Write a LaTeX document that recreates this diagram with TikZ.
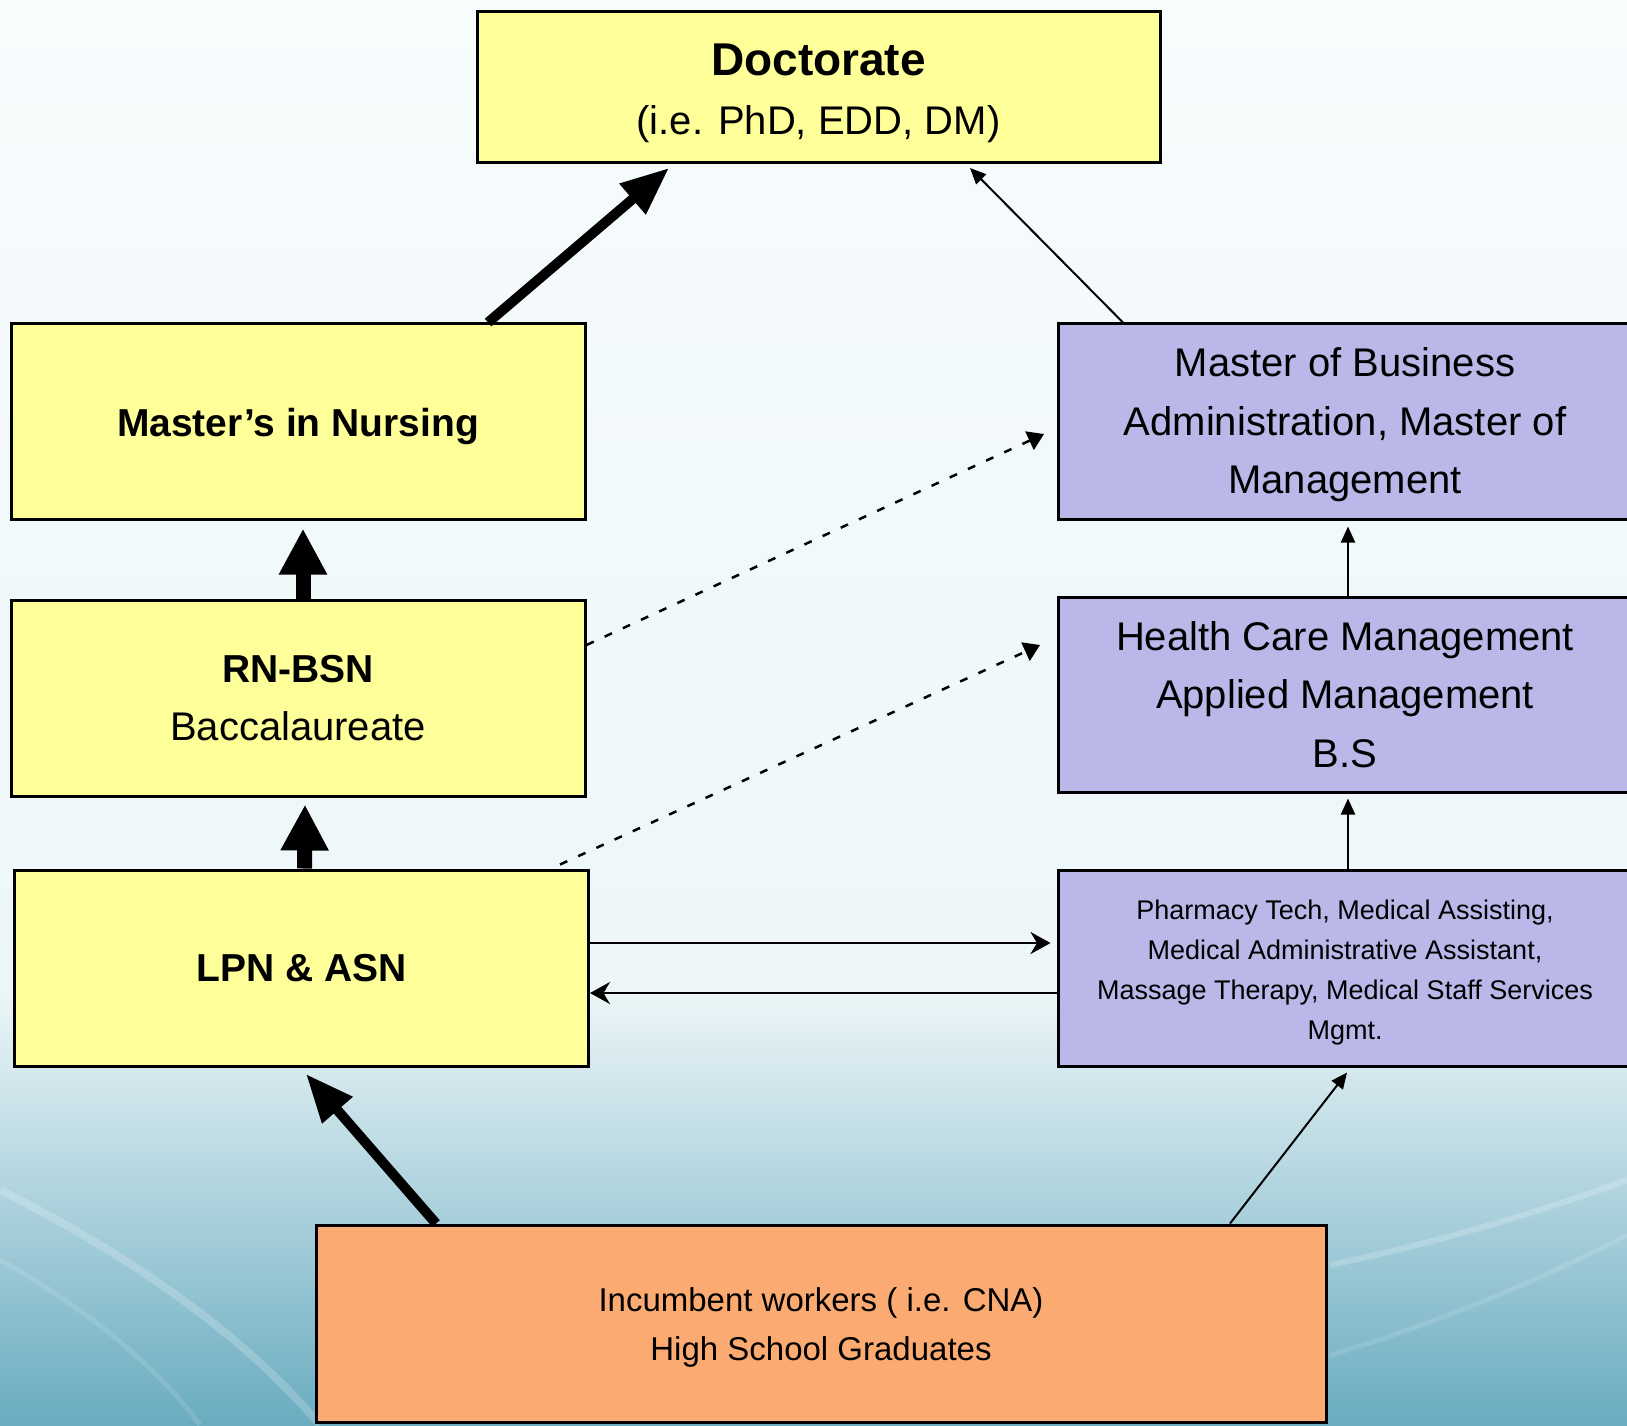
\documentclass[tikz,border=0pt]{standalone}
\usepackage{fontspec}
\setmainfont{Liberation Sans}
\usetikzlibrary{arrows.meta,calc}
\definecolor{ladyellow}{HTML}{FFFF99}
\definecolor{ladlilac}{HTML}{B9B8E8}
\definecolor{ladorange}{HTML}{FBAB71}
\definecolor{ladtop}{HTML}{F7FCFD}
\definecolor{ladmist}{HTML}{EDF6F8}
\definecolor{ladsea}{HTML}{6AACC0}
\newcommand\padtop[1]{\rule{0pt}{#1}}

\begin{document}
\begin{tikzpicture}[
  x=1pt, y=-1pt,
  box/.style={draw=black, line width=3pt, align=center, inner sep=0pt,
              minimum width=574pt, minimum height=196pt},
  ybox/.style={box, fill=ladyellow},
  pbox/.style={box, fill=ladlilac},
  hdr/.style={font=\fontsize{39}{59}\selectfont\bfseries},
  txt/.style={font=\fontsize{40}{58.5}\selectfont},
  heavy/.style={-{Triangle[length=48pt,width=38pt]}, line width=10pt},
  block/.style={-{Triangle[length=46pt,width=45pt]}, line width=15pt},
  fine/.style={-{Triangle[length=16pt,width=14pt]}, line width=2pt},
  flat/.style={-{Stealth[length=20pt,width=22pt]}, line width=2.5pt},
  dashlink/.style={-{Triangle[length=16pt,width=20pt]}, line width=2.5pt,
                   dash pattern=on 8pt off 12pt},
]

% ---------------- background ----------------------------------------
\useasboundingbox (0,0) rectangle (1627,1425);
\clip (0,0) rectangle (1627,1425);
\shade[top color=ladtop, bottom color=ladmist] (0,0) rectangle (1627,990);
\shade[top color=ladmist, bottom color=ladsea] (0,990) rectangle (1627,1425);
\draw[white, opacity=0.2, line width=8pt]
  (0,1190) .. controls (120,1250) and (240,1330) .. (320,1425);
\draw[white, opacity=0.12, line width=5pt]
  (0,1260) .. controls (90,1310) and (160,1370) .. (200,1425);
\draw[white, opacity=0.2, line width=6pt]
  (1330,1265) .. controls (1450,1240) and (1560,1205) .. (1627,1180);
\draw[white, opacity=0.12, line width=5pt]
  (1330,1355) .. controls (1450,1320) and (1560,1270) .. (1627,1235);

% ---------------- boxes ---------------------------------------------
\node[ybox, minimum width=683pt, minimum height=151pt, txt] (doct) at (818.5,86.5)
  {{\fontsize{46}{59}\selectfont\bfseries\padtop{45pt}Doctorate}\\(i.e. PhD, EDD, DM)};
\node[ybox, hdr] (mnurs) at (298,421) {\padtop{38.5pt}Master’s in Nursing};
\node[ybox, txt] (rnbsn) at (298,698)
  {{\fontsize{39}{59}\selectfont\bfseries RN-BSN}\\Baccalaureate};
\node[ybox, hdr] (lpn) at (301.5,968) {LPN \& ASN};

\node[pbox, txt] (mba) at (1345,421)
  {\padtop{37pt}Master of Business\\Administration, Master of\\Management};
\node[pbox, txt, minimum height=195pt] (hcm) at (1345,694.5)
  {Health Care Management\\Applied Management\\B.S};
\node[pbox, font=\fontsize{27}{40}\selectfont] (pharm) at (1345,968)
  {\padtop{29pt}Pharmacy Tech, Medical Assisting,\\Medical Administrative Assistant,\\
   Massage Therapy, Medical Staff Services\\Mgmt.};

\node[box, fill=ladorange, minimum width=1010pt, minimum height=197pt,
      font=\fontsize{33}{49}\selectfont] (incumb) at (821,1323.5)
  {\padtop{31pt}Incumbent workers ( i.e. CNA)\\High School Graduates};

% ---------------- nursing ladder ------------------------------------
\draw[heavy] ($(incumb.north)+(-385,0)$) -- ($(lpn.south)+(4.5,6.5)$);
\draw[block] ($(lpn.north)+(3,0)$) -- ($(rnbsn.south)+(7,7)$);
\draw[block] ($(rnbsn.north)+(5,0)$) -- ($(mnurs.south)+(5,8)$);
\draw[heavy] ($(mnurs.north)+(190,1)$) -- ($(doct.south)+(-149.5,4.5)$);

% ---------------- management ladder ---------------------------------
\draw[fine] ($(incumb.north)+(409,0)$) -- ($(pharm.south)+(2,5)$);
\draw[fine] ($(pharm.north)+(3,0)$) -- ($(hcm.south)+(3,5)$);
\draw[fine] ($(hcm.north)+(3,0)$) -- ($(mba.south)+(3,6)$);
\draw[fine] ($(mba.north)+(-222,1)$) -- ($(doct.south)+(151.5,4.5)$);

% ---------------- cross links ---------------------------------------
\draw[flat] ($(lpn.east)+(0,-25)$) -- ($(pharm.west)+(-6,-25)$);
\draw[flat] ($(pharm.west)+(0,25)$) -- ($(lpn.east)+(0,25)$);
\draw[dashlink] ($(rnbsn.east)+(0,-53)$) -- ($(mba.west)+(-12.5,13)$);
\draw[dashlink] ($(lpn.north east)+(-30,-4)$) -- ($(hcm.west)+(-16.5,-49.5)$);

\end{tikzpicture}
\end{document}
